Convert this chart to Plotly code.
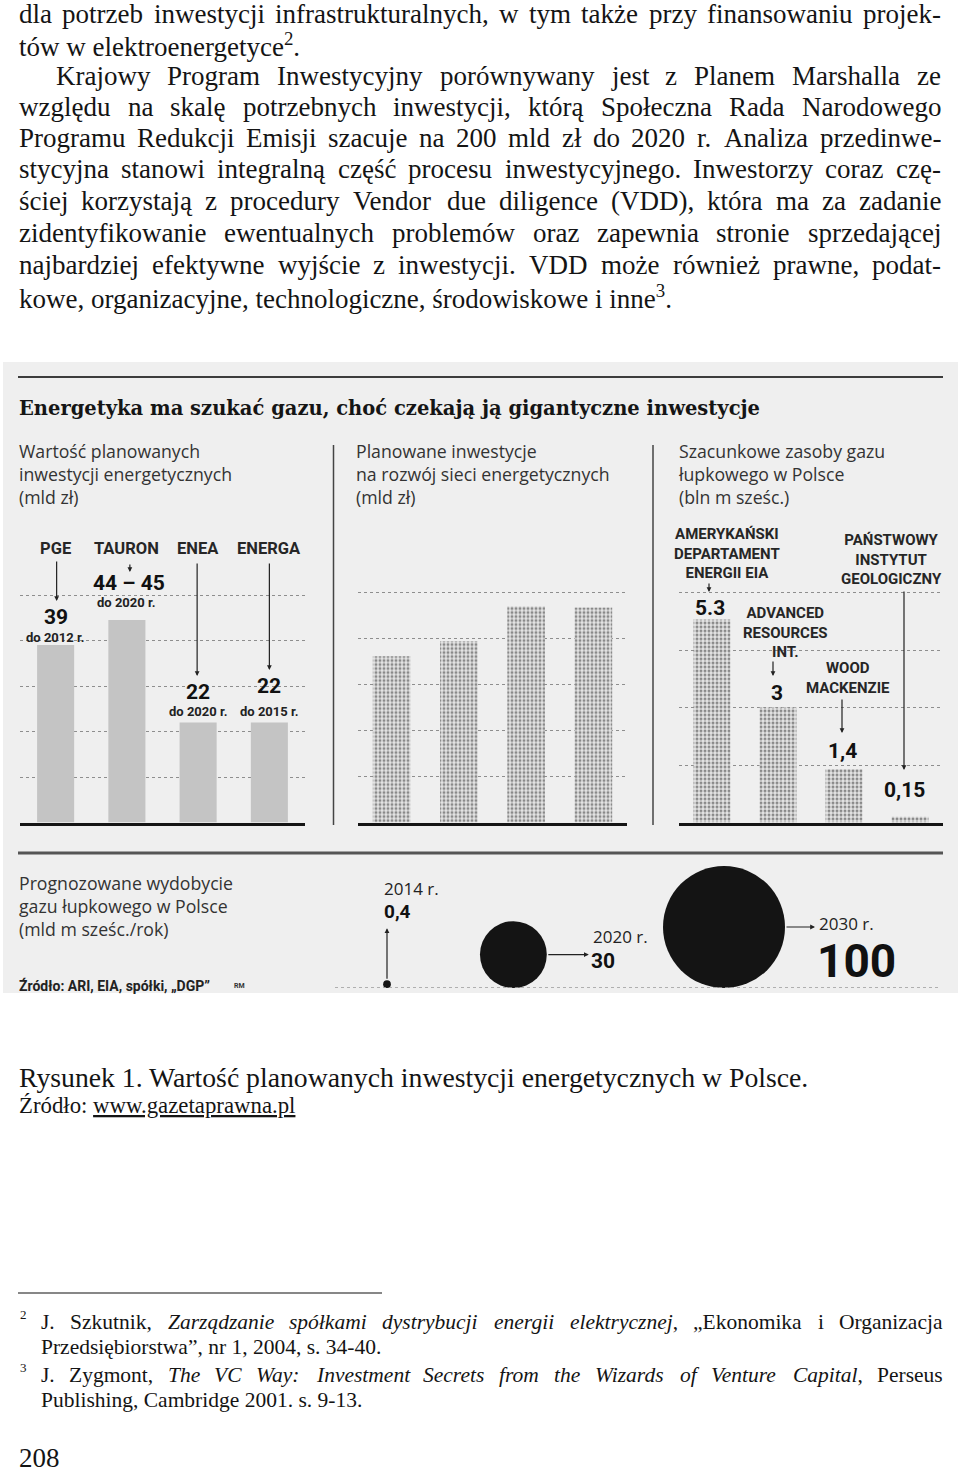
import math
import plotly.graph_objects as go

W, H = 960, 1474


def px(x):
    return x / W


def py(y):
    return 1 - y / H


# ---------------- DATA ----------------
p1_categories = ["PGE", "TAURON", "ENEA", "ENERGA"]
p1_values = [39, 44.5, 22, 22]
p1_value_labels = ["39", "44 – 45", "22", "22"]
p1_period_labels = ["do 2012 r.", "do 2020 r.", "do 2020 r.", "do 2015 r."]

p2_categories = ["2012", "2013", "2014", "2015"]
p2_values = [5.73, 6.25, 7.45, 7.41]
p2_value_labels = ["5.73", "6,25", "7.45", "7.41"]

p3_categories = ["EIA", "ARI", "WM", "PIG"]
p3_names = ["AMERYKAŃSKI<br>DEPARTAMENT<br>ENERGII EIA",
            "ADVANCED<br>RESOURCES<br>INT.",
            "WOOD<br>MACKENZIE",
            "PAŃSTWOWY<br>INSTYTUT<br>GEOLOGICZNY"]
p3_values = [5.3, 3, 1.4, 0.15]
p3_value_labels = ["5.3", "3", "1,4", "0,15"]

gas_years = [2014, 2020, 2030]
gas_values = [0.4, 30, 100]
gas_year_labels = ["2014 r.", "2020 r.", "2030 r."]
gas_value_labels = ["0,4", "30", "100"]

title_text = "Energetyka ma szukać gazu, choć czekają ją gigantyczne inwestycje"
p1_subtitle = ["Wartość planowanych", "inwestycji energetycznych", "(mld zł)"]
p2_subtitle = ["Planowane inwestycje", "na rozwój sieci energetycznych", "(mld zł)"]
p3_subtitle = ["Szacunkowe zasoby gazu", "łupkowego w Polsce", "(bln m sześc.)"]
p4_subtitle = ["Prognozowane wydobycie", "gazu łupkowego w Polsce", "(mld m sześc./rok)"]
source_text = "Źródło: ARI, EIA, spółki, „DGP”"

body_lines = [
    "dla potrzeb inwestycji infrastrukturalnych, w tym także przy finansowaniu projek-",
    "tów w elektroenergetyce<sup>2</sup>.",
    "Krajowy Program Inwestycyjny porównywany jest z Planem Marshalla ze",
    "względu na skalę potrzebnych inwestycji, którą Społeczna Rada Narodowego",
    "Programu Redukcji Emisji szacuje na 200 mld zł do 2020 r. Analiza przedinwe-",
    "stycyjna stanowi integralną część procesu inwestycyjnego. Inwestorzy coraz czę-",
    "ściej korzystają z procedury Vendor due diligence (VDD), która ma za zadanie",
    "zidentyfikowanie ewentualnych problemów oraz zapewnia stronie sprzedającej",
    "najbardziej efektywne wyjście z inwestycji. VDD może również prawne, podat-",
    "kowe, organizacyjne, technologiczne, środowiskowe i inne<sup>3</sup>.",
]
caption_text = "Rysunek 1. Wartość planowanych inwestycji energetycznych w Polsce."
caption_source = "Źródło: <u>www.gazetaprawna.pl</u>"
footnote_lines = [
    "J. Szkutnik, <i>Zarządzanie spółkami dystrybucji energii elektrycznej</i>, „Ekonomika i Organizacja",
    "Przedsiębiorstwa”, nr 1, 2004, s. 34-40.",
    "J. Zygmont, <i>The VC Way: Investment Secrets from the Wizards of Venture Capital</i>, Perseus",
    "Publishing, Cambridge 2001. s. 9-13.",
]
footnote_marks = ["2", "3"]
page_number = "208"

# ---------------- Times metrics (Liberation Serif is metric compatible) ----------------
REG = dict(zip("abcdefghijklmnopqrstuvwxyz",
               [444, 500, 444, 500, 444, 333, 500, 500, 278, 278, 500, 278, 778, 500, 500, 500, 500, 333, 389, 278, 500, 500, 722, 500, 500, 444]))
REG.update(dict(zip("ABCDEFGHIJKLMNOPQRSTUVWXYZ",
                    [722, 667, 667, 722, 611, 556, 722, 722, 333, 389, 722, 611, 889, 722, 722, 556, 722, 667, 556, 611, 722, 722, 944, 722, 722, 611])))
ITA = dict(zip("abcdefghijklmnopqrstuvwxyz",
               [500, 500, 444, 500, 444, 278, 500, 500, 278, 278, 444, 278, 722, 500, 500, 500, 500, 389, 389, 278, 500, 444, 667, 444, 444, 389]))
ITA.update(dict(zip("ABCDEFGHIJKLMNOPQRSTUVWXYZ",
                    [611, 611, 667, 722, 611, 611, 722, 722, 333, 444, 667, 556, 833, 667, 722, 611, 722, 611, 500, 556, 722, 611, 833, 611, 556, 556])))
for t, colon in ((REG, 278), (ITA, 333)):
    t.update({" ": 250, ",": 250, ".": 250, "-": 333, "(": 333, ")": 333, ":": colon,
              "„": 444, "”": 444, "–": 500, "/": 278})
    for d in "0123456789":
        t[d] = 500
ACCENT = {"ą": "a", "ę": "e", "ć": "c", "ś": "s", "ż": "z", "ź": "z", "ó": "o", "ł": "l", "ń": "n",
          "Ś": "S", "Ż": "Z", "Ź": "Z", "Ó": "O", "Ł": "L"}


def text_em(s):
    total, ital, sup, i = 0.0, False, False, 0
    while i < len(s):
        if s[i] == "<":
            j = s.index(">", i)
            tag = s[i + 1:j].lower()
            if tag == "i":
                ital = True
            elif tag == "/i":
                ital = False
            elif tag == "sup":
                sup = True
            elif tag == "/sup":
                sup = False
            i = j + 1
            continue
        ch = s[i]
        table = ITA if ital else REG
        w = table.get(ch, table.get(ACCENT.get(ch, ch), 500))
        total += w * (0.7 if sup else 1.0)
        i += 1
    return total / 1000.0


def split_words(s):
    words, cur, ital, i = [], "", False, 0
    while i < len(s):
        if s.startswith("<i>", i):
            ital = True
            cur += "<i>"
            i += 3
            continue
        if s.startswith("</i>", i):
            ital = False
            cur += "</i>"
            i += 4
            continue
        ch = s[i]
        if ch == " ":
            if ital:
                cur += "</i>"
            words.append(cur)
            cur = "<i>" if ital else ""
        else:
            cur += ch
        i += 1
    words.append(cur)
    return [w.replace("<i></i>", "") for w in words]


anns = []


def A(text, x, y, size=12, family="Roboto", color="#111", xanchor="center", yanchor="middle",
      xref="paper", yref="paper", weight=None, **kw):
    f = dict(size=size, family=family, color=color)
    if weight:
        f["weight"] = weight
    d = dict(text=text, x=x, y=y, xref=xref, yref=yref, xanchor=xanchor, yanchor=yanchor,
             showarrow=False, font=f, borderpad=0)
    d.update(kw)
    anns.append(d)


def arrow(xref, x, head, tail, xshift=0):
    anns.append(dict(text="", x=x, xref=xref, y=py(head), yref="paper", showarrow=True,
                     ax=0, ay=tail - head, arrowhead=2, arrowsize=0.8, arrowwidth=1.2,
                     arrowcolor="#222", standoff=0, xshift=xshift))


def text_line(text, x0, x1, yc, size, justify, family="Liberation Serif", color="#141414"):
    if not justify:
        A(text, px(x0), py(yc), size=size, family=family, color=color, xanchor="left")
        return
    words = split_words(text)
    widths = [text_em(w) * size for w in words]
    gap = (x1 - x0 - sum(widths)) / (len(words) - 1)
    x = x0
    for w, wd in zip(words, widths):
        A(w, px(x), py(yc), size=size, family=family, color=color, xanchor="left")
        x += wd + gap


# ---------------- page text ----------------
BODY_SIZE = 27
body_y = [14, 45, 76, 107, 138, 169, 201, 233, 265, 297]
body_x0 = [18, 18, 55, 18, 18, 18, 18, 18, 18, 18]
body_just = [True, False, True, True, True, True, True, True, True, False]
for t, y, x0, j in zip(body_lines, body_y, body_x0, body_just):
    text_line(t, x0, 940, y, BODY_SIZE, j)

cap_size = (812 - 18) / text_em(caption_text)
text_line(caption_text, 18, 812, 1077, cap_size, False)
src_size = (296 - 18) / text_em("Źródło: www.gazetaprawna.pl")
text_line(caption_source, 18, 296, 1105, src_size, False)

FN_SIZE = 21.5
fn_y = [1322, 1347, 1375, 1400]
fn_just = [True, False, True, False]
for t, y, j in zip(footnote_lines, fn_y, fn_just):
    text_line(t, 40, 942, y, FN_SIZE, j)
for m, y in zip(footnote_marks, [1314, 1367]):
    A(m, px(19), py(y), size=13, family="Liberation Serif", color="#141414", xanchor="left")
A(page_number, px(18), py(1458), size=27, family="Liberation Serif", color="#141414", xanchor="left")

# ---------------- infographic ----------------
fig = go.Figure()
fig.add_bar(x=p1_categories, y=p1_values, xaxis="x", yaxis="y", width=0.52,
            marker=dict(color="#c4c4c4", line_width=0))
pattern = dict(shape=".", fgcolor="#2e2e2e", bgcolor="#e4e4e4", size=4, solidity=0.45)
fig.add_bar(x=p2_categories, y=p2_values, xaxis="x2", yaxis="y2", width=0.56,
            marker=dict(line_width=0, pattern=pattern))
fig.add_bar(x=p3_categories, y=p3_values, xaxis="x3", yaxis="y3", width=0.56,
            marker=dict(line_width=0, pattern=pattern))

MAX_D = 122
gas_diam = [MAX_D * math.sqrt(v / max(gas_values)) for v in gas_values]
gas_center = [d / 2 for d in gas_diam]
fig.add_scatter(x=gas_years, y=gas_center, xaxis="x4", yaxis="y4", mode="markers",
                marker=dict(size=gas_values, sizemode="area",
                            sizeref=2 * max(gas_values) / MAX_D ** 2,
                            color="#141414", opacity=1, line_width=0))

BASE = 822.5
panels = [  # x0, x1, px per unit, ymax, dtick
    (20, 305, 4.55, 51, 10),
    (358, 627, 29.0, 8.0, 46 / 29.0),
    (679, 943, 38.3, 6.1, 1.5),
]
layout_axes = {}
for i, (x0, x1, ppu, ymax, dt) in enumerate(panels, start=1):
    sfx = "" if i == 1 else str(i)
    layout_axes["xaxis" + sfx] = dict(domain=[px(x0), px(x1)], anchor="y" + sfx, type="category",
                                      range=[-0.5, 3.5], showticklabels=False, showgrid=False,
                                      zeroline=False, showline=True, linecolor="#151515",
                                      linewidth=3, ticks="", layer="below traces", fixedrange=True)
    layout_axes["yaxis" + sfx] = dict(domain=[py(BASE), py(BASE - ymax * ppu)], anchor="x" + sfx,
                                      range=[0, ymax], tick0=0, dtick=dt, showgrid=True,
                                      gridcolor="#8e8e8e", griddash="dot", gridwidth=1.2,
                                      showticklabels=False, zeroline=False, showline=False,
                                      ticks="", layer="below traces", fixedrange=True)
x4_ppy = (724 - 387) / (2030 - 2014)
layout_axes["xaxis4"] = dict(domain=[px(335), px(940)], anchor="y4",
                             range=[2014 - (387 - 335) / x4_ppy, 2030 + (940 - 724) / x4_ppy],
                             visible=False, fixedrange=True)
layout_axes["yaxis4"] = dict(domain=[py(988), py(858)], anchor="x4", range=[0, 130],
                             visible=False, fixedrange=True)

# title + subtitles
A(title_text, px(18), py(408), size=19.5, family="DejaVu Serif", color="#151515",
  xanchor="left", weight="bold")
SUB = dict(size=17.7, family="Open Sans", color="#333333", xanchor="left", align="left")
for lines, x0 in ((p1_subtitle, 18), (p2_subtitle, 355), (p3_subtitle, 677)):
    A("<br>".join(lines), px(x0), py(474), **SUB)

LBL = dict(size=16.5, family="Roboto", color="#262626", weight="bold")
VAL = dict(size=21, family="Roboto", color="#111", weight="bold")
SML = dict(size=13, family="Roboto", color="#222", weight="bold")

# panel 1
p1_val_y = [617, 583, 692, 686]
p1_per_y = [637, 602, 711, 711]
p1_arrows = [(601, 560, 1), (572, 563, 3), (676, 562, -1), (670, 562, 0)]
for c, vl, pl, vy, pyy, (hd, tl, xs) in zip(p1_categories, p1_value_labels, p1_period_labels,
                                            p1_val_y, p1_per_y, p1_arrows):
    A(c, c, py(548), xref="x", **LBL)
    arrow("x", c, hd, tl, xs)
    A(vl, c, py(vy), xref="x", xshift=2 if "–" in vl else 0, **VAL)
    A(pl, c, py(pyy), xref="x", **SML)

# panel 2
p2_val_y = [640, 620, 594, 593]
p2_arrows = [(620, 562, 4), (602, 562, 0), (578, 562, 0), (573, 562, 2)]
for c, vl, vy, (hd, tl, xs) in zip(p2_categories, p2_value_labels, p2_val_y, p2_arrows):
    A(c, c, py(547), xref="x2", **LBL)
    arrow("x2", c, hd, tl, xs)
    A(vl, c, py(vy), xref="x2", **VAL)

# panel 3
p3_name_y = [554, 632, 678, 559]
p3_name_dx = [15, 7, 4, -19]
p3_val_y = [608, 693, 751, 790]
p3_val_dx = [-2, -1, -2, -6]
p3_arrows = [(592, 582, -3), (676, 660, -5), (733, 698, -2), (770, 590, -6)]
for c, nm, ny, ndx, vl, vy, vdx, (hd, tl, xs) in zip(p3_categories, p3_names, p3_name_y, p3_name_dx,
                                                     p3_value_labels, p3_val_y, p3_val_dx, p3_arrows):
    A(nm, c, py(ny), xref="x3", xshift=ndx, size=15, family="Roboto", color="#262626", weight="bold")
    arrow("x3", c, hd, tl, xs)
    A(vl, c, py(vy), xref="x3", xshift=vdx, **VAL)

# bottom section
A("<br>".join(p4_subtitle), px(18), py(906), **SUB)
A(source_text, px(18), py(985), size=14, family="Roboto", color="#222", xanchor="left", weight="bold")
A("RM", px(233), py(986), size=7, family="Roboto", color="#333", xanchor="left", weight="bold")

# 2014 small bubble: labels above with upward arrow
A(gas_year_labels[0], gas_years[0], py(888), xref="x4", xanchor="left", xshift=-4,
  size=17, family="Open Sans", color="#222")
A(gas_value_labels[0], gas_years[0], py(911), xref="x4", xanchor="left", xshift=-4,
  size=19, family="Roboto", color="#111", weight="bold")
anns.append(dict(text="", x=gas_years[0], xref="x4", y=gas_diam[0] + 52, yref="y4",
                 showarrow=True, ax=0, ay=52, arrowhead=2, arrowsize=0.8, arrowwidth=1.2,
                 arrowcolor="#222", standoff=0))
# 2020 and 2030: arrows to the right
gaps = [None, 42, 30]
year_y = [None, 936, 923]
val_y = [None, 961, 961]
val_size = [None, 21, 46]
for k in (1, 2):
    r = gas_diam[k] / 2
    anns.append(dict(text="", x=gas_years[k], xref="x4", y=gas_center[k], yref="y4",
                     xshift=r + gaps[k], showarrow=True, ax=-gaps[k], ay=0, arrowhead=2,
                     arrowsize=0.8, arrowwidth=1.2, arrowcolor="#222", standoff=0))
    A(gas_year_labels[k], gas_years[k], py(year_y[k]), xref="x4", xanchor="left",
      xshift=r + gaps[k] + 3, size=17, family="Open Sans", color="#222")
    A(gas_value_labels[k], gas_years[k], py(val_y[k]), xref="x4", xanchor="left",
      xshift=r + gaps[k] + 1, size=val_size[k], family="Roboto", color="#111", weight="bold")

shapes = [
    dict(type="rect", xref="paper", yref="paper", x0=px(3), x1=px(958), y0=py(993), y1=py(362),
         fillcolor="#efefef", line_width=0, layer="below"),
    dict(type="line", xref="paper", yref="paper", x0=px(18), x1=px(943), y0=py(377), y1=py(377),
         line=dict(color="#3c3c3c", width=2)),
    dict(type="line", xref="paper", yref="paper", x0=px(333.5), x1=px(333.5), y0=py(445), y1=py(825),
         line=dict(color="#444", width=1.5)),
    dict(type="line", xref="paper", yref="paper", x0=px(653), x1=px(653), y0=py(445), y1=py(825),
         line=dict(color="#444", width=1.5)),
    dict(type="line", xref="paper", yref="paper", x0=px(18), x1=px(943), y0=py(853), y1=py(853),
         line=dict(color="#555", width=3)),
    dict(type="line", xref="x4 domain", yref="y4", x0=0, x1=1, y0=0, y1=0,
         line=dict(color="#9a9a9a", width=1.5, dash="dot")),
    dict(type="line", xref="paper", yref="paper", x0=px(18), x1=px(382), y0=py(1293), y1=py(1293),
         line=dict(color="#111", width=1.2)),
]

fig.update_layout(
    width=W, height=H, margin=dict(l=0, r=0, t=0, b=0, pad=0),
    paper_bgcolor="white", plot_bgcolor="rgba(0,0,0,0)", showlegend=False,
    annotations=anns, shapes=shapes, **layout_axes,
)
fig.write_html("out.html", config={"displayModeBar": False},
               post_script="document.body.style.margin='0';document.body.style.padding='0';")
